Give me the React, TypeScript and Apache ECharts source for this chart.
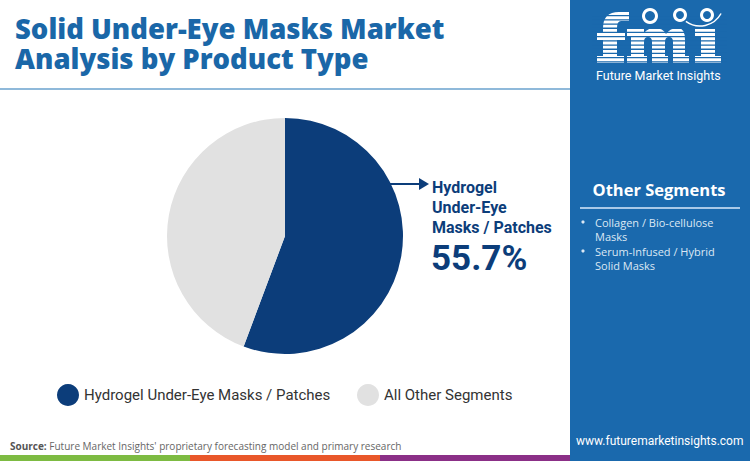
import React, { useEffect, useRef } from "react";
import * as echarts from "echarts";

const titleLines = ["Solid Under-Eye Masks Market", "Analysis by Product Type"];
const categories = ["Hydrogel Under-Eye Masks / Patches", "All Other Segments"];
const shares = [55.7, 44.3];
const sliceColors = ["#0c3d7a", "#e1e1e1"];
const calloutLines = ["Hydrogel", "Under-Eye", "Masks / Patches"];
const otherSegmentsTitle = "Other Segments";
const otherSegmentLines = [
  ["Collagen / Bio-cellulose", "Masks"],
  ["Serum-Infused / Hybrid", "Solid Masks"],
];
const sourceLabel = "Source:";
const sourceText = " Future Market Insights' proprietary forecasting model and primary research";
const website = "www.futuremarketinsights.com";
const brandName = "Future Market Insights";

const logoPath =
  "M0,44 L6,44 L6,28 L0,28 L0,20 L6,20 L6,16 Q6,0 22,0 L32,0 L32,9 L24,9 Q20,9 20,16 L20,20 L28,20 L28,28 L20,28 L20,44 L27,44 L27,51 L0,51 Z " +
  "M30,44 L34,44 L34,24 L30,24 L30,17 L47,17 L47,21 Q51,16 58,16 Q66,16 69,22 Q73,16 81,16 Q88,16 88,28 L88,44 L92,44 L92,51 L76,51 L76,30 Q76,25 72,25 Q68,25 68,30 L68,44 L71,44 L71,51 L55,51 L55,30 Q55,25 51,25 Q47,25 47,30 L47,44 L50,44 L50,51 L30,51 Z " +
  "M98,44 L104,44 L104,24 L98,24 L98,17 L118,17 L118,44 L124,44 L124,51 L98,51 Z";

let logoRegistered = false;

export default function App() {
  const ref = useRef<HTMLDivElement>(null);
  useEffect(() => {
    if (!ref.current) return;
    if (!logoRegistered) {
      echarts.graphic.registerShape("fmilogo", echarts.graphic.extendPath(logoPath, {}));
      logoRegistered = true;
    }
    const chart = echarts.init(ref.current, undefined, { renderer: "svg" });
    const panel = "#1a69ad";
    const graphics: any[] = [];
    // right panel
    graphics.push({ type: "rect", shape: { x: 570, y: 0, width: 180, height: 461 }, style: { fill: panel }, z: 0 });
    // bottom color bar
    const barCols = ["#7dbb42", "#e9572a", "#8b2f87"];
    barCols.forEach((c, i) =>
      graphics.push({ type: "rect", shape: { x: i * 190, y: 455, width: 190, height: 6 }, style: { fill: c } })
    );
    // title
    titleLines.forEach((t, i) =>
      graphics.push({
        type: "text",
        x: 15,
        y: 28 + i * 30,
        style: {
          text: t,
          font: "800 27.5px 'Open Sans'",
          lineHeight: 28,
          fill: "#1a67a8",
          textVerticalAlign: "middle",
        },
      })
    );
    graphics.push({ type: "line", shape: { x1: 0, y1: 89, x2: 570, y2: 89 }, style: { stroke: "#8fb9da", lineWidth: 2 } });
    // arrow + callout
    graphics.push({ type: "line", shape: { x1: 389, y1: 184, x2: 422, y2: 184 }, style: { stroke: sliceColors[0], lineWidth: 2 } });
    graphics.push({ type: "polygon", shape: { points: [[419, 178], [429, 184], [419, 190]] }, style: { fill: sliceColors[0] } });
    graphics.push({
      type: "text",
      x: 432,
      y: 207,
      style: {
        text: calloutLines.join("\n"),
        font: "bold 16px Roboto",
        lineHeight: 20,
        fill: sliceColors[0],
        textVerticalAlign: "middle",
      },
    });
    graphics.push({
      type: "text",
      x: 431,
      y: 258,
      style: { text: shares[0].toFixed(1) + "%", font: "bold 35px Roboto", fill: sliceColors[0], textVerticalAlign: "middle" },
    });
    // right panel texts
    graphics.push({
      type: "text",
      x: 659,
      y: 189,
      style: { text: otherSegmentsTitle, font: "bold 16.5px 'Open Sans'", fill: "#ffffff", textAlign: "center", textVerticalAlign: "middle" },
    });
    graphics.push({ type: "line", shape: { x1: 580, y1: 208, x2: 740, y2: 208 }, style: { stroke: "#a9c9e8", lineWidth: 2 } });
    let ly = 222;
    otherSegmentLines.forEach((lines) => {
      graphics.push({ type: "circle", shape: { cx: 583, cy: ly, r: 1.6 }, style: { fill: "#dce8f4" } });
      graphics.push({
        type: "text",
        x: 595,
        y: ly + 7.25,
        style: {
          text: lines.join("\n"),
          font: "11px 'Open Sans'",
          lineHeight: 14.5,
          fill: "#dce8f4",
          textVerticalAlign: "middle",
        },
      });
      ly += 14.5 * lines.length;
    });
    // logo
    graphics.push({ type: "fmilogo", x: 597, y: 12, style: { fill: "#ffffff" } });
    for (let y = 15; y < 64; y += 4.2) {
      graphics.push({ type: "rect", shape: { x: 592, y: y, width: 135, height: 1.3 }, style: { fill: panel } });
    }
    [[650, 16, 8], [680, 15, 7], [707, 15, 7]].forEach(([cx, cy, r]) => {
      graphics.push({ type: "circle", shape: { cx, cy, r }, style: { fill: "#ffffff" } });
      graphics.push({ type: "circle", shape: { cx, cy, r: r - 3 }, style: { fill: panel } });
    });
    graphics.push({ type: "arc", shape: { cx: 700, cy: 2, r: 24, startAngle: 0.5, endAngle: 2.2 }, style: { stroke: "#ffffff", lineWidth: 1.5, fill: "none" } });
    graphics.push({
      type: "text",
      x: 596,
      y: 75,
      style: { text: brandName, font: "12.5px Roboto", fill: "#ffffff", textVerticalAlign: "middle" },
    });
    // footer
    graphics.push({
      type: "text",
      x: 576,
      y: 441,
      style: { text: website, font: "12px Roboto", fill: "#ffffff", textVerticalAlign: "middle" },
    });
    graphics.push({
      type: "text",
      x: 10,
      y: 446,
      style: {
        text: "{b|" + sourceLabel + "}{n|" + sourceText + "}",
        rich: {
          b: { fontWeight: "bold", fontSize: 10, fontFamily: "Open Sans", fill: "#555" },
          n: { fontSize: 10, fontFamily: "Open Sans", fill: "#666" },
        },
        textVerticalAlign: "middle",
      },
    });

    const legendBase = {
      icon: "circle",
      itemWidth: 22,
      itemHeight: 22,
      padding: 0,
      selectedMode: false,
      top: 384,
      textStyle: { fontSize: 15, color: "#333", fontFamily: "Roboto" },
    };

    chart.setOption({
      animation: false,
      backgroundColor: "#ffffff",
      legend: [
        { ...legendBase, data: [categories[0]], left: 57 },
        { ...legendBase, data: [categories[1]], left: 357 },
      ],
      series: [
        {
          type: "pie",
          center: [285, 236],
          radius: 118,
          startAngle: 90,
          clockwise: true,
          silent: true,
          label: { show: false },
          labelLine: { show: false },
          data: categories.map((n, i) => ({ name: n, value: shares[i], itemStyle: { color: sliceColors[i] } })),
        },
      ],
      graphic: graphics,
    });
    return () => chart.dispose();
  }, []);
  return <div ref={ref} style={{ position: "fixed", left: 0, top: 0, width: 750, height: 461 }} />;
}
